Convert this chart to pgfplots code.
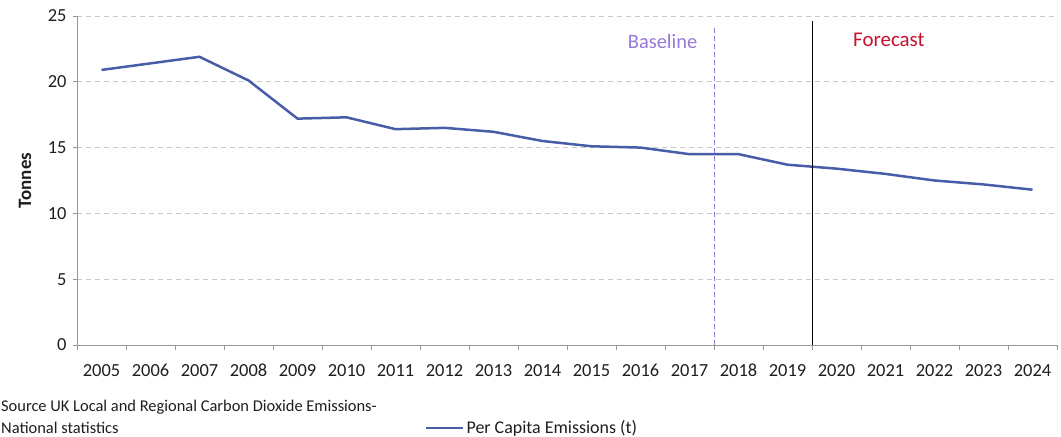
\documentclass[border=0pt]{standalone}
\usepackage{pgfplots}
\pgfplotsset{compat=1.18}
\usepackage{fontspec}
\setmainfont{Carlito}
\definecolor{lineblue}{RGB}{72,93,168}
\definecolor{basepurple}{RGB}{150,120,215}
\definecolor{fcred}{RGB}{200,16,46}
\definecolor{gridgray}{RGB}{200,200,200}
\definecolor{axisgray}{RGB}{150,150,150}
\definecolor{labelgray}{RGB}{30,30,30}
\pgfplotstableread{
idx val
0 20.9
1 21.4
2 21.9
3 20.1
4 17.2
5 17.3
6 16.4
7 16.5
8 16.2
9 15.5
10 15.1
11 15.0
12 14.5
13 14.5
14 13.7
15 13.4
16 13.0
17 12.5
18 12.2
19 11.8
}\emis
\begin{document}
\begin{tikzpicture}[x=1bp,y=1bp]
\useasboundingbox (0,0) rectangle (1061,437);
\begin{axis}[
  at={(77bp,92bp)}, anchor=south west,
  scale only axis, width=980bp, height=329bp,
  xmin=-0.5, xmax=19.5, ymin=0, ymax=25,
  xtick={0,...,19},
  xticklabels={2005,2006,2007,2008,2009,2010,2011,2012,2013,2014,2015,2016,2017,2018,2019,2020,2021,2022,2023,2024},
  minor xtick={-0.5,0.5,...,19.5},
  major x tick style={draw=none},
  ytick={0,5,...,25},
  /pgf/number format/assume math mode=true,
  tick align=outside,
  major tick length=4bp, minor tick length=5bp,
  axis x line*=bottom, axis y line*=left,
  axis line style={axisgray, line width=0.8bp, -},
  every tick/.style={axisgray, line width=0.8bp},
  ymajorgrids,
  grid style={gridgray, dash pattern=on 5bp off 4bp, line width=0.8bp},
  tick label style={font=\fontsize{18.5}{20}\selectfont, text=labelgray},
  xticklabel style={anchor=north, yshift=-11bp, text height=13bp, text depth=0bp},
  yticklabel style={xshift=-3bp},
  ylabel={Tonnes},
  ylabel style={at={(axis description cs:-0.053,0.5)}, anchor=center, font=\bfseries\fontsize{19}{21}\selectfont, text=labelgray},
  legend style={at={(axis description cs:0.355,-0.252)}, anchor=west, draw=none, fill=none, inner sep=0pt, font=\fontsize{18}{20}\selectfont, text=labelgray},
  legend image code/.code={\draw[#1] (0bp,0bp) -- (37bp,0bp);},
  clip=false,
]
\addplot[color=lineblue, line width=2.5bp] table[x=idx, y=val] {\emis};
\addlegendentry{Per Capita Emissions (t)}
\addplot[forget plot, color=basepurple, line width=1bp, dash pattern=on 5bp off 3bp] coordinates {(12.5,0) (12.5,24.3)};
\addplot[forget plot, color=black, line width=0.9bp] coordinates {(14.5,0) (14.5,24.6)};
\node[text=basepurple, font=\fontsize{20.5}{22}\selectfont] at (axis cs:11.45,23.1) {Baseline};
\node[text=fcred, font=\fontsize{21}{23}\selectfont] at (axis cs:16.07,23.2) {Forecast};
\end{axis}
\node[anchor=west, text=labelgray, font=\fontsize{16.5}{18}\selectfont, inner sep=0pt] at (1,30) {Source UK Local and Regional Carbon Dioxide Emissions-};
\node[anchor=west, text=labelgray, font=\fontsize{16.5}{18}\selectfont, inner sep=0pt] at (1,9) {National statistics};
\end{tikzpicture}
\end{document}
